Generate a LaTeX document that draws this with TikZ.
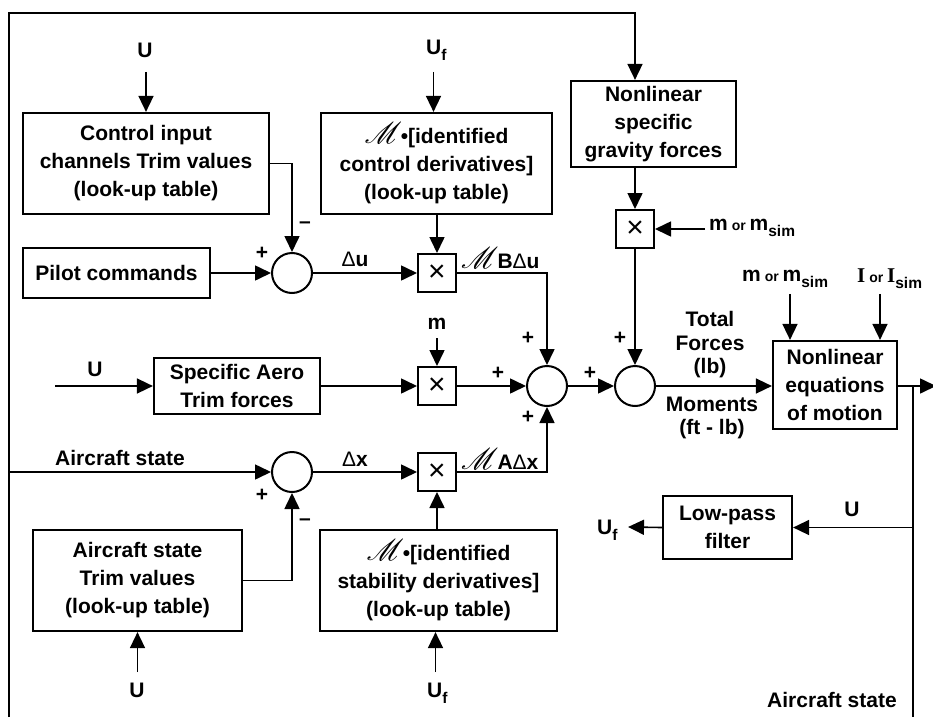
\documentclass[tikz,border=0pt]{standalone}
\usepackage{fontspec}
\setmainfont{Liberation Sans}
\newfontfamily\serifface{Liberation Serif}
\usepackage{mathrsfs}
\usetikzlibrary{arrows.meta, positioning, calc}
\newcommand{\boxfont}{\fontsize{21}{28}\selectfont\bfseries}
\newcommand{\tightfont}{\fontsize{21}{23.5}\selectfont\bfseries}
\newcommand{\orword}{{\fontsize{14}{14}\selectfont\ or\ }}
\newcommand{\scrM}{\scalebox{1.45}{$\mathscr{M}$}\kern-1pt}
\newcommand{\thinD}{{\mdseries Δ}}
\newcommand{\lowsub}[1]{\raisebox{-6pt}{\fontsize{15.5}{15.5}\selectfont #1}}

\begin{document}
\begin{tikzpicture}[x=1pt, y=-1pt,
    block/.style={draw, line width=2.2pt, align=center, inner sep=0pt, font=\boxfont},
    mult/.style={draw, line width=2pt, minimum size=38pt, inner sep=0pt,
      font=\fontsize{30}{30}\selectfont\mdseries},
    junction/.style={circle, draw, line width=2pt, minimum size=40pt, inner sep=0pt},
    lbl/.style={font=\boxfont, inner sep=0pt, align=center},
    sign/.style={font=\boxfont, inner sep=0pt},
    wire/.style={line width=1.6pt},
    flow/.style={wire, -{Triangle[length=16pt,width=15pt]}}
  ]
  \useasboundingbox (0,0) rectangle (933,717);

  % look-up tables and blocks
  \node[block, minimum width=246pt, minimum height=101pt] (ctrlTrim) at (146,163.5)
    {Control input\\channels Trim values\\(look-up table)};
  \node[block, minimum width=231pt, minimum height=101pt] (ctrlDeriv) at (436.5,163.5)
    {\scrM\textbullet[identified\\control derivatives]\\(look-up table)};
  \node[block, minimum width=165pt, minimum height=86pt] (gravity) at (653.5,124)
    {Nonlinear\\specific\\gravity forces};
  \node[block, minimum width=187pt, minimum height=50pt] (pilot) at (116.5,273)
    {Pilot commands};
  \node[block, minimum width=166pt, minimum height=56pt] (aero) at (237,386)
    {Specific Aero\\Trim forces};
  \node[block, minimum width=124pt, minimum height=88pt] (eom) at (835,385)
    {Nonlinear\\equations\\of motion};
  \node[block, minimum width=209pt, minimum height=101pt] (stateTrim) at (137.5,580.5)
    {Aircraft state\\Trim values\\(look-up table)};
  \node[block, minimum width=237pt, minimum height=101pt] (stabDeriv) at (438.5,580.5)
    {\scrM\textbullet[identified\\stability derivatives]\\(look-up table)};
  \node[block, minimum width=129pt, minimum height=63pt] (lpf) at (727.5,527.5)
    {Low-pass\\filter};

  % summing junctions and multipliers
  \node[junction] (sumU) at (292,273) {};
  \node[junction] (sumA) at (547,386) {};
  \node[junction] (sumT) at (635,386) {};
  \node[junction] (sumX) at (292,472) {};
  \node[mult] (mulU) at (437,273) {×};
  \node[mult] (mulA) at (437,386) {×};
  \node[mult] (mulX) at (437,472) {×};
  \node[mult] (mulG) at (635,229) {×};

  % signal labels
  \node[lbl] (uCtrl) at (145,50) {U};
  \node[lbl, anchor=west] (ufCtrl) at (426,50) {U\lowsub{f}};
  \node[lbl] (duLbl) at (355,259) {\thinD u};
  \node[lbl, anchor=west] (mbLbl) at (461,258) {\scrM B\thinD u};
  \node[lbl] (mLbl) at (437,324) {m};
  \node[lbl] (uAero) at (95,369) {U};
  \node[lbl, anchor=west] (mgLbl) at (709,228) {m\orword m\lowsub{sim}};
  \node[lbl, anchor=west] (meLbl) at (742,279) {m\orword m\lowsub{sim}};
  \node[lbl, anchor=west] (ieLbl) at (857,279) {{\serifface\bfseries I}\orword{\serifface\bfseries I}\lowsub{sim}};
  \node[lbl, font=\tightfont] (forceLbl) at (710,345) {Total\\Forces\\(lb)};
  \node[lbl, font=\tightfont] (momentLbl) at (712,418) {Moments\\(ft - lb)};
  \node[lbl] (stateLbl) at (120,458) {Aircraft state};
  \node[lbl] (dxLbl) at (355,459) {\thinD x};
  \node[lbl, anchor=west] (maLbl) at (461,459) {\scrM A\thinD x};
  \node[lbl] (uState) at (137,690) {U};
  \node[lbl, anchor=west] (ufStab) at (427,693) {U\lowsub{f}};
  \node[lbl] (uLpf) at (852,509) {U};
  \node[lbl, anchor=west] (ufLpf) at (597,530) {U\lowsub{f}};
  \node[lbl] (stateOut) at (832,700) {Aircraft state};

  % signs at the junctions
  \node[sign] (sgnU1) at (262,253) {+};
  \node[sign] (sgnU2) at (305,225) {–};
  \node[sign] (sgnA1) at (528,338) {+};
  \node[sign] (sgnA2) at (498,373) {+};
  \node[sign] (sgnA3) at (528,417) {+};
  \node[sign] (sgnT1) at (620,338) {+};
  \node[sign] (sgnT2) at (590,373) {+};
  \node[sign] (sgnX1) at (262,495) {+};
  \node[sign] (sgnX2) at (305,522) {–};

  \coordinate (frameBL) at (9,717);
  \coordinate (frameTop) at (635,13);
  \coordinate (stateIn) at (9,472);
  \coordinate (aeroIn) at (55,386);
  \coordinate (eomTap) at (913,386);
  \coordinate (eomOut) at (936,386);
  \coordinate (tapBot) at (913,717);
  \coordinate (ufOut) at (628,527);

  % connectors
  \draw[flow] ($(ctrlTrim.north)+(0,-40)$) -- (ctrlTrim.north);
  \draw[flow] ($(ctrlDeriv.north)+(-3,-40)$) -- ($(ctrlDeriv.north)+(-3,0)$);
  \draw[flow] (ctrlTrim.east) -| (sumU.north);
  \draw[flow] (pilot.east) -- (sumU.west);
  \draw[flow] (sumU.east) -- (mulU.west);
  \draw[flow] (ctrlDeriv.south -| mulU.north) -- (mulU.north);
  \draw[flow] (mulU.east) -| (sumA.north);
  \draw[flow] (frameBL) |- (frameTop) -- (gravity.north -| mulG.north);
  \draw[flow] (gravity.south -| mulG.north) -- (mulG.north);
  \draw[flow] ($(mulG.east)+(50,0)$) -- (mulG.east);
  \draw[flow] (mulG.south) -- (sumT.north);
  \draw[flow] ($(mulA.north)+(0,-28)$) -- (mulA.north);
  \draw[flow] (aeroIn) -- (aero.west);
  \draw[flow] (aero.east) -- (mulA.west);
  \draw[flow] (mulA.east) -- (sumA.west);
  \draw[flow] (sumA.east) -- (sumT.west);
  \draw[flow] (sumT.east) -- (sumT.east -| eom.west);
  \draw[flow] ($(eom.north)+(-45,-46)$) -- ($(eom.north)+(-45,0)$);
  \draw[flow] ($(eom.north)+(45,-46)$) -- ($(eom.north)+(45,0)$);
  \draw[flow] (eom.east |- eomOut) -- (eomOut);
  \draw[wire] (eomTap) -- (tapBot);
  \draw[flow] (eomTap |- lpf.east) -- (lpf.east);
  \draw[flow] (lpf.west) -- (ufOut);
  \draw[flow] (stateIn) -- (sumX.west);
  \draw[flow] (sumX.east) -- (mulX.west);
  \draw[flow] (stabDeriv.north -| mulX.south) -- (mulX.south);
  \draw[flow] (mulX.east) -| (sumA.south);
  \draw[flow] (stateTrim.east) -| (sumX.south);
  \draw[flow] ($(stateTrim.south)+(0,40)$) -- (stateTrim.south);
  \draw[flow] ($(stabDeriv.south)+(-3,40)$) -- ($(stabDeriv.south)+(-3,0)$);
\end{tikzpicture}
\end{document}
